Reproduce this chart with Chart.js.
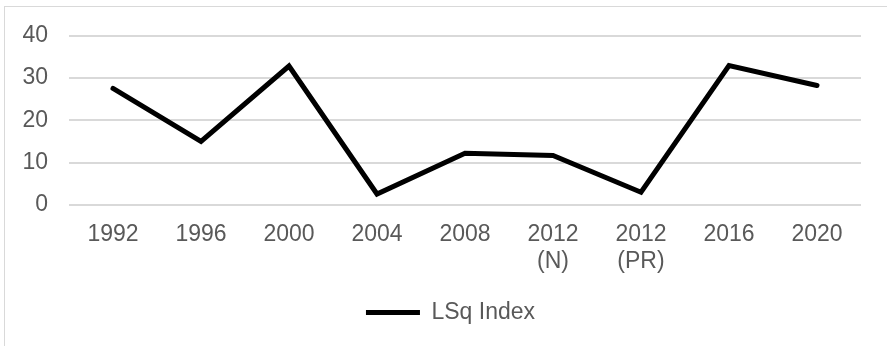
<!DOCTYPE html>
<html>
<head>
<meta charset="utf-8">
<script src="https://cdn.jsdelivr.net/npm/chart.js@4/dist/chart.umd.min.js"></script>
<style>
  html, body { margin: 0; padding: 0; background: #ffffff; overflow: hidden; }
  body { width: 887px; height: 346px; position: relative; }
  #frame {
    position: absolute; left: 4px; top: 6px;
    width: 920px; height: 360px;
    border-left: 1px solid #d9d9d9; border-top: 1px solid #d9d9d9;
  }
  #box { position: absolute; left: 0; top: 0; width: 906px; height: 339px; }
</style>
</head>
<body>
<div id="frame"><div id="box"><canvas id="chart"></canvas></div></div>
<script>
// Election years (two 2012 entries: national and presidential runs)
const categories = ['1992', '1996', '2000', '2004', '2008', ['2012', '(N)'], ['2012', '(PR)'], '2016', '2020'];
// LSq index per election
const lsqIndex = [27.5, 15.0, 32.8, 2.6, 12.2, 11.7, 3.0, 32.9, 28.2];
// Value axis ticks
const yTicks = [0, 10, 20, 30, 40];

const FONT = 'Liberation Sans, Arial, sans-serif';
const TEXT = '#595959';
const GRID = '#d9d9d9';

// Centre the legend on the whole frame rather than on the padded box
const legendShift = {
  id: 'legendShift',
  afterLayout(chart) {
    const lg = chart.legend;
    if (lg) { lg.left += 8.8; lg.right += 8.8; }
  }
};

new Chart(document.getElementById('chart'), {
  type: 'line',
  data: {
    labels: categories,
    datasets: [{
      label: 'LSq Index',
      data: lsqIndex,
      borderColor: '#000000',
      backgroundColor: '#000000',
      borderWidth: 5,
      borderCapStyle: 'round',
      borderJoinStyle: 'miter',
      pointStyle: 'line',
      pointRadius: 0,
      pointHoverRadius: 0,
      tension: 0,
      fill: false
    }]
  },
  plugins: [legendShift],
  options: {
    responsive: true,
    maintainAspectRatio: false,
    animation: false,
    layout: { autoPadding: false, padding: { left: 17.4, right: 50, top: 28.5, bottom: 12.1 } },
    plugins: {
      tooltip: { enabled: false },
      legend: {
        position: 'bottom',
        labels: {
          usePointStyle: true,
          pointStyleWidth: 54,
          padding: 9.5,
          color: TEXT,
          font: { family: FONT, size: 23 }
        }
      }
    },
    scales: {
      x: {
        offset: true,
        grid: { display: false, drawTicks: false },
        border: { display: false },
        ticks: {
          color: TEXT,
          padding: 15.6,
          maxRotation: 0,
          autoSkip: false,
          font: { family: FONT, size: 23, lineHeight: 1.2 }
        }
      },
      y: {
        min: yTicks[0],
        max: yTicks[yTicks.length - 1],
        afterBuildTicks: (scale) => { scale.ticks = yTicks.map(v => ({ value: v })); },
        afterFit: (scale) => {
          scale.width = 46.6;
          scale.paddingTop = 0;
          scale.paddingBottom = 0;
        },
        grid: { color: GRID, lineWidth: 2, drawTicks: false },
        border: { display: false },
        ticks: {
          color: TEXT,
          padding: 21,
          font: { family: FONT, size: 23 }
        }
      }
    }
  }
});
</script>
</body>
</html>
